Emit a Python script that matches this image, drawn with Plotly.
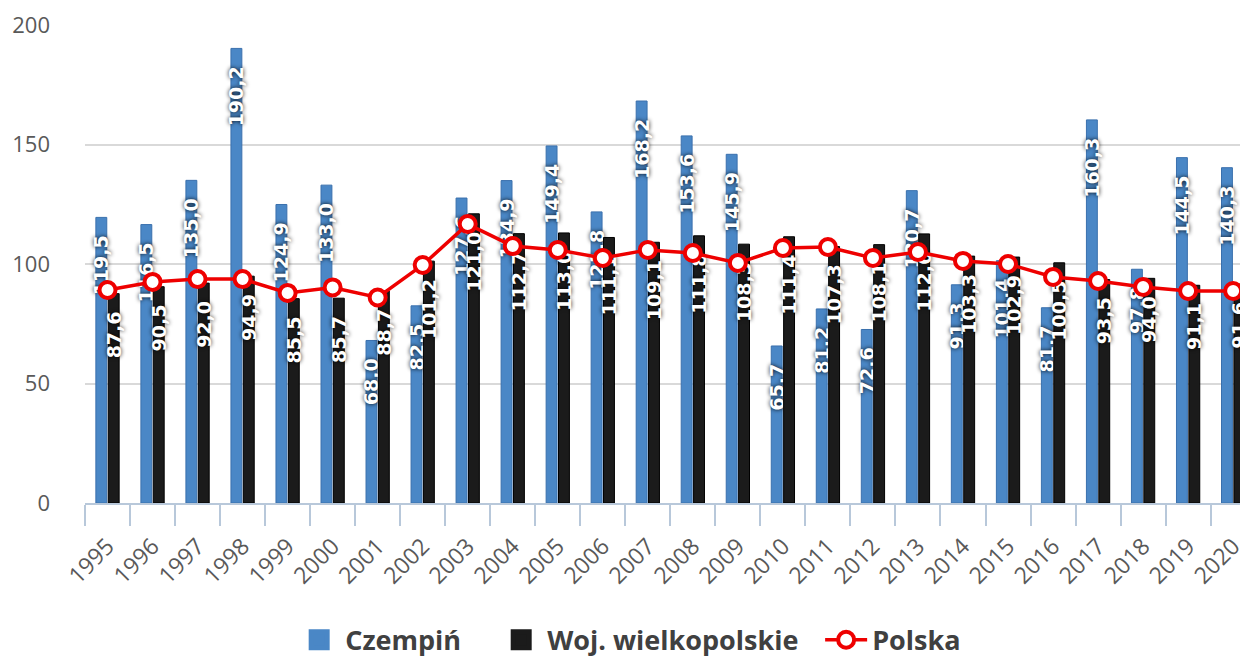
import plotly.graph_objects as go

years = [str(y) for y in range(1995, 2021)]
czempin = [119.5, 116.5, 135.0, 190.2, 124.9, 133.0, 68.0, 82.5, 127.6, 134.9, 149.4, 121.8, 168.2,
           153.6, 145.9, 65.7, 81.2, 72.6, 130.7, 91.3, 101.4, 81.7, 160.3, 97.8, 144.5, 140.3]
woj = [87.6, 90.5, 92.0, 94.9, 85.5, 85.7, 88.7, 101.2, 121.0, 112.7, 113.0, 111.1, 109.1,
       111.8, 108.3, 111.4, 107.3, 108.1, 112.6, 103.3, 102.9, 100.5, 93.5, 94.0, 91.1, 91.6]
polska = [89.1, 92.5, 93.7, 93.7, 87.9, 90.2, 86.0, 99.6, 116.7, 107.5, 105.9, 102.5, 105.9,
          104.6, 100.4, 106.7, 107.1, 102.5, 105.0, 101.3, 100.0, 94.6, 92.9, 90.4, 88.7, 88.7]
yticks = [0, 50, 100, 150, 200]

BLUE = "#4a87c6"
BLACK = "#1b1b1b"
RED = "#ee0000"


def fmt(v):
    # trailing blank pattern char keeps the label a little below the bar top
    return f"{v:.1f}".replace('.', ',') + "\u2800"


label_font = dict(family="DejaVu Sans", size=19, color="white", weight="bold",
                  shadow="0px 0px 4px rgba(0,0,0,0.95)")
legend_font = dict(family="Open Sans", size=27, color="#404040", weight="bold")

fig = go.Figure()
fig.add_trace(go.Bar(
    x=years, y=czempin, name="Czempiń", showlegend=False,
    marker=dict(color=BLUE, line=dict(color="#3a70ad", width=1)),
    text=[fmt(v) for v in czempin], textposition="inside", insidetextanchor="end",
    textangle=-90, constraintext="none", textfont=label_font, cliponaxis=False,
))
fig.add_trace(go.Bar(
    x=years, y=woj, name="Woj. wielkopolskie", showlegend=False,
    marker=dict(color=BLACK, line=dict(color="#000000", width=1)),
    text=[fmt(v) for v in woj], textposition="inside", insidetextanchor="end",
    textangle=-90, constraintext="none", textfont=label_font, cliponaxis=False,
))
fig.add_trace(go.Scatter(
    x=years, y=polska, name="Polska", mode="lines+markers", legend="legend3",
    line=dict(color=RED, width=3.5),
    marker=dict(symbol="circle", size=16, color="white", line=dict(color=RED, width=4)),
    cliponaxis=False,
))
# legend keys for the bar series (bigger squares than bar legend icons)
fig.add_trace(go.Scatter(
    x=[None], y=[None], name="Czempiń", mode="markers", legend="legend",
    marker=dict(symbol="square", size=16, color=BLUE, line=dict(color=BLUE, width=5)),
))
fig.add_trace(go.Scatter(
    x=[None], y=[None], name="Woj. wielkopolskie", mode="markers", legend="legend2",
    marker=dict(symbol="square", size=16, color=BLACK, line=dict(color=BLACK, width=5)),
))

leg_common = dict(orientation="h", y=-0.287, yanchor="middle", xanchor="left",
                  font=legend_font, itemsizing="trace", itemwidth=42,
                  bgcolor="rgba(0,0,0,0)")

fig.update_layout(
    width=1240, height=649,
    margin=dict(l=77, r=0, t=17, b=154, autoexpand=False),
    paper_bgcolor="white", plot_bgcolor="white",
    barmode="group", bargap=0.45, bargroupgap=0.12,
    showlegend=True,
    legend=dict(x=0.1790, **leg_common),
    legend2=dict(x=0.3527, **leg_common),
    legend3=dict(x=0.6321, **leg_common),
    xaxis=dict(
        type="category", range=[-0.5, 25.33], automargin=False,
        showline=True, linecolor="#b8c8da", linewidth=1.5,
        ticks="outside", tickson="boundaries", ticklen=21, tickcolor="#b8c8da", tickwidth=1.5,
        tickangle=-45, tickfont=dict(family="Open Sans", size=23, color="#595959"),
        ticklabelstandoff=19,
        showgrid=False,
    ),
    yaxis=dict(
        range=[0, 200], tickvals=yticks, ticktext=[str(v) for v in yticks], automargin=False,
        showgrid=True, gridcolor="#d9d9d9", gridwidth=1.5, zeroline=False,
        tickfont=dict(family="Open Sans", size=22, color="#595959"),
        ticklabelstandoff=34,
    ),
)

fig.write_html("out.html")
